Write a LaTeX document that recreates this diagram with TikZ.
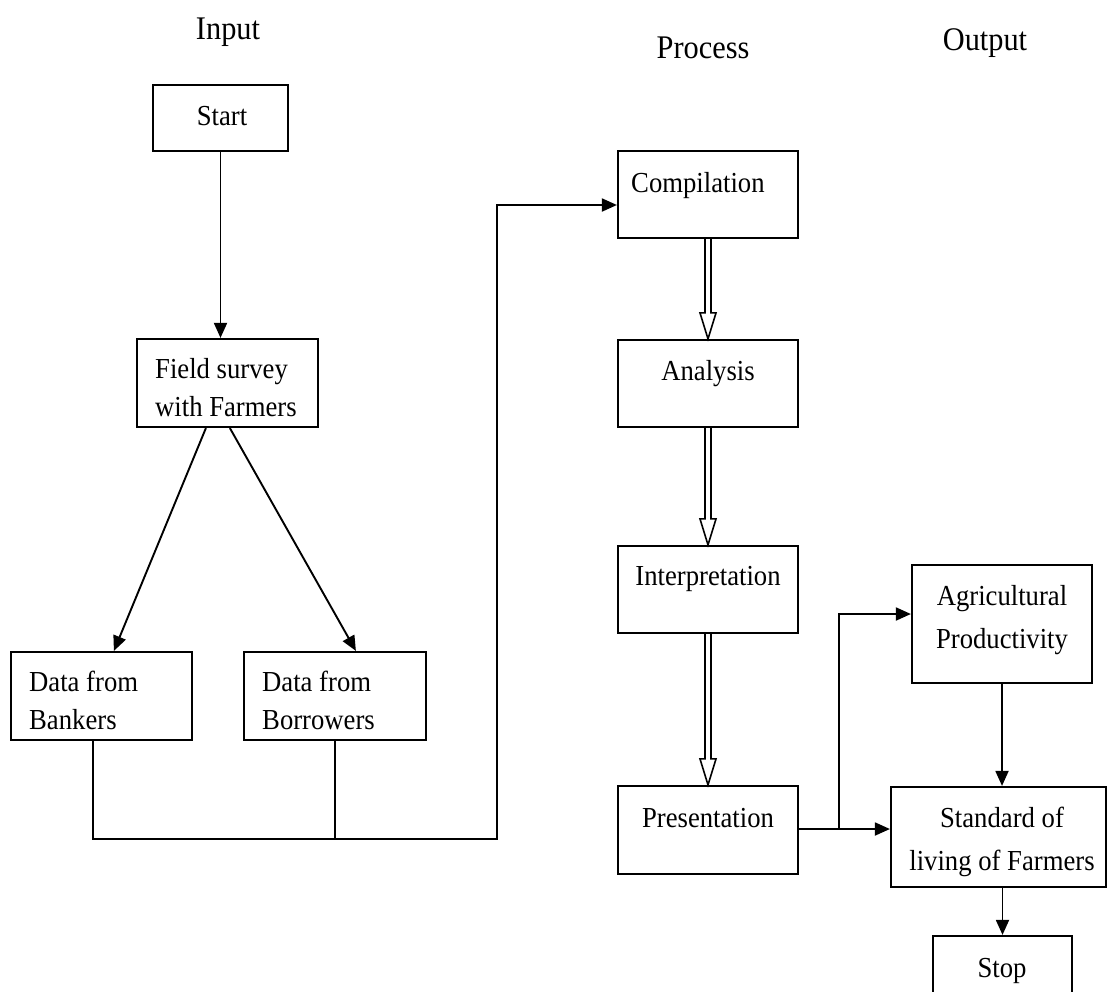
\documentclass[tikz,border=0pt]{standalone}
\usepackage{fontspec}
\setmainfont[FakeStretch=0.92]{Liberation Serif}
\usetikzlibrary{arrows.meta,calc}
\newcommand{\lineslft}[2]{\vtop{\halign{##\hfil\cr #1\cr #2\cr}}}
\newcommand{\linesctr}[2]{\vtop{\halign{\hfil##\hfil\cr #1\cr #2\cr}}}
\begin{document}
\begin{tikzpicture}[x=1pt,y=-1pt,
  box/.style={draw, line width=2.2pt, inner sep=0pt},
  txt/.style={inner sep=0pt, font=\fontsize{29}{38}\selectfont},
  txtwide/.style={inner sep=0pt, font=\fontsize{29}{43}\selectfont},
  title/.style={inner sep=0pt, anchor=base, font=\fontsize{33}{40}\selectfont},
  arr/.style={line width=1.9pt, -{Triangle[length=15pt,width=13pt]}},
  conn/.style={line width=1.9pt},
  dbl/.style={line width=1.6pt, line join=miter}]
\clip (0,0) rectangle (1107,991);
\fill[white] (0,0) rectangle (1107,991);

% titles
\node[title] (tin) at (228,39) {Input};
\node[title] (tproc) at (703,58) {Process};
\node[title] (tout) at (985,50) {Output};

% boxes
\node[box, minimum width=135pt, minimum height=66pt] (start) at (220.5,118) {};
\node[box, minimum width=181pt, minimum height=88pt] (fs) at (227.5,383) {};
\node[box, minimum width=181pt, minimum height=88pt] (bank) at (101.5,696) {};
\node[box, minimum width=182pt, minimum height=88pt] (borr) at (335,696) {};
\node[box, minimum width=180pt, minimum height=87pt] (comp) at (708,194.5) {};
\node[box, minimum width=180pt, minimum height=87pt] (anal) at (708,383.5) {};
\node[box, minimum width=180pt, minimum height=87pt] (interp) at (708,589.5) {};
\node[box, minimum width=180pt, minimum height=88pt] (pres) at (708,830) {};
\node[box, minimum width=180pt, minimum height=118pt] (agri) at (1002,624) {};
\node[box, minimum width=215pt, minimum height=100pt] (std) at (998.5,837) {};
\node[box, minimum width=139pt, minimum height=74pt] (stop) at (1002.5,973) {};

% texts
\node[txt, anchor=base] (tstart) at (222,125) {Start};
\node[txt, anchor=base west] (tfs) at (155,378) {\lineslft{Field survey}{with Farmers}};
\node[txt, anchor=base west] (tbank) at (29,691) {\lineslft{Data from}{Bankers}};
\node[txt, anchor=base west] (tborr) at (262,691) {\lineslft{Data from}{Borrowers}};
\node[txt, anchor=base west] (tcomp) at (631,192) {Compilation};
\node[txt, anchor=base] (tanal) at (708,380) {Analysis};
\node[txt, anchor=base] (tinterp) at (708,585) {Interpretation};
\node[txt, anchor=base] (tpres) at (708,827) {Presentation};
\node[txtwide, anchor=base] (tagri) at (1002,605) {\linesctr{Agricultural}{Productivity}};
\node[txtwide, anchor=base] (tstd) at (1002,827) {\linesctr{Standard of}{living of Farmers}};
\node[txt, anchor=base] (tstop) at (1002,977) {Stop};

% input connectors
\draw[arr] (start.south) -- (start.south |- fs.north);
\draw[arr] ($(fs.south west)+(70,0)$) -- ($(bank.north west)+(104,0)$);
\draw[arr] ($(fs.south west)+(94,0)$) -- ($(borr.north west)+(113,0)$);
\coordinate (bk) at ($(bank.south west)+(83,0)$);
\coordinate (bo) at ($(borr.south west)+(92,0)$);
\coordinate (corner) at (497,839);
\draw[conn] (bo) -- (bo |- corner);
\draw[arr] (bk) |- (corner) |- ($(comp.west)+(0,10.5)$);

% process double arrows
\foreach \a/\b in {comp/anal, anal/interp, interp/pres}{
  \draw[dbl] ($(\a.south)+(-3,0)$) -- ($(\b.north)+(-3,-26)$) -- ($(\b.north)+(-8,-26)$)
    -- (\b.north) -- ($(\b.north)+(8,-26)$) -- ($(\b.north)+(3,-26)$) -- ($(\a.south)+(3,0)$);
}

% output connectors
\coordinate (br) at (839,829);
\draw[arr] (pres.east |- br) -- (br -| std.west);
\draw[arr] (br) |- ($(agri.west)+(0,-10)$);
\draw[arr] (agri.south) -- (agri.south |- std.north);
\draw[arr] (stop.north |- std.south) -- (stop.north);
\end{tikzpicture}
\end{document}
